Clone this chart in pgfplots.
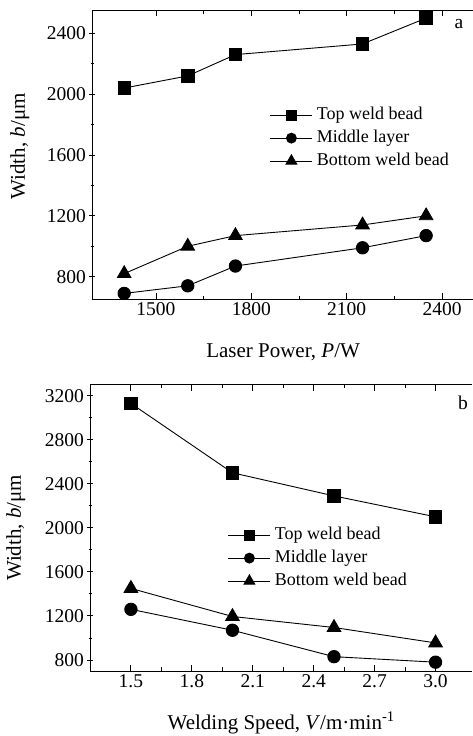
\documentclass[border=0pt]{standalone}
\usepackage{fontspec}
\setmainfont{Liberation Serif}
\usepackage{pgfplots}
\pgfplotsset{compat=1.18}

\pgfplotsset{
  weld/.style={
    scale only axis,
    axis x line=box, axis y line=left,
    y axis line style={-},
    axis line style={line width=1pt},
    every tick/.style={black, line width=0.9pt},
    major tick length=6pt, minor tick length=3.5pt,
    minor tick num=1,
    tick label style={font=\fontsize{19.5}{22}\selectfont},
    /pgf/number format/1000 sep={},
    /pgf/number format/assume math mode=true,
    label style={font=\fontsize{21}{24}\selectfont},
    legend cell align=left,
    legend style={draw=none, fill=none, inner sep=0pt, row sep=2pt,
      column sep=2pt, anchor=north west,
      nodes={inner sep=2pt, text height=13pt, text depth=4pt},
      font=\fontsize{18}{21}\selectfont},
    legend image code/.code={
      \draw[mark repeat=2, mark phase=2, #1, every mark/.append style={scale=0.8}]
        plot coordinates {(0pt,0pt) (21pt,0pt) (42pt,0pt)};},
  },
  topb/.style={black, line width=0.9pt, mark=square*, mark size=6.2pt},
  midl/.style={black, line width=0.9pt, mark=*, mark size=6.2pt},
  botb/.style={black, line width=0.9pt, mark=triangle*, mark size=7.8pt},
}

\begin{document}
\begin{tikzpicture}[x=1pt,y=1pt]
\useasboundingbox (0pt,0pt) rectangle (473pt,736pt);
% ---- panel a: laser power
\begin{axis}[weld,
  at={(92.4pt,436.5pt)}, anchor=south west,
  width=381.4pt, height=289pt,
  xmin=1300, xmax=2500, ymin=650, ymax=2550,
  xtick={1500,1800,2100,2400},
  ytick={800,1200,1600,2000,2400},
  xlabel={Laser Power, \textit{P}/W},
  ylabel={Width, \textit{b}/μm},
  xlabel style={at={(axis description cs:0.5,-0.202)}, anchor=base},
  ylabel style={at={(axis description cs:-0.19,0.53)}, anchor=center},
  legend style={at={(0.465,0.675)}},
]
\addplot[topb] coordinates {(1400,2040) (1600,2120) (1750,2260) (2150,2330) (2350,2500)};
\addlegendentry{Top weld bead}
\addplot[midl] coordinates {(1400,690) (1600,740) (1750,870) (2150,990) (2350,1070)};
\addlegendentry{Middle layer}
\addplot[botb] coordinates {(1400,820) (1600,1000) (1750,1070) (2150,1140) (2350,1200)};
\addlegendentry{Bottom weld bead}
\node[font=\fontsize{19.5}{22}\selectfont] at (rel axis cs:0.961,0.953) {a};
\end{axis}
% ---- panel b: welding speed
\begin{axis}[weld,
  at={(90.3pt,65pt)}, anchor=south west,
  width=381.8pt, height=286.3pt,
  xmin=1.3, xmax=3.18, ymin=700, ymax=3300,
  xtick={1.5,1.8,2.1,2.4,2.7,3.0},
  ytick={800,1200,1600,2000,2400,2800,3200},
  xticklabel style={/pgf/number format/.cd, fixed, fixed zerofill, precision=1},
  xlabel={Welding Speed, \textit{V}/m·min\textsuperscript{-1}},
  ylabel={Width, \textit{b}/μm},
  xlabel style={at={(axis description cs:0.5,-0.2026)}, anchor=base},
  ylabel style={at={(axis description cs:-0.195,0.5)}, anchor=center},
  legend style={at={(0.36,0.512)}},
]
\addplot[topb] coordinates {(1.5,3130) (2.0,2500) (2.5,2290) (3.0,2100)};
\addlegendentry{Top weld bead}
\addplot[midl] coordinates {(1.5,1260) (2.0,1070) (2.5,830) (3.0,780)};
\addlegendentry{Middle layer}
\addplot[botb] coordinates {(1.5,1450) (2.0,1195) (2.5,1095) (3.0,955)};
\addlegendentry{Bottom weld bead}
\node[font=\fontsize{19.5}{22}\selectfont] at (rel axis cs:0.976,0.936) {b};
\end{axis}
\end{tikzpicture}
\end{document}
